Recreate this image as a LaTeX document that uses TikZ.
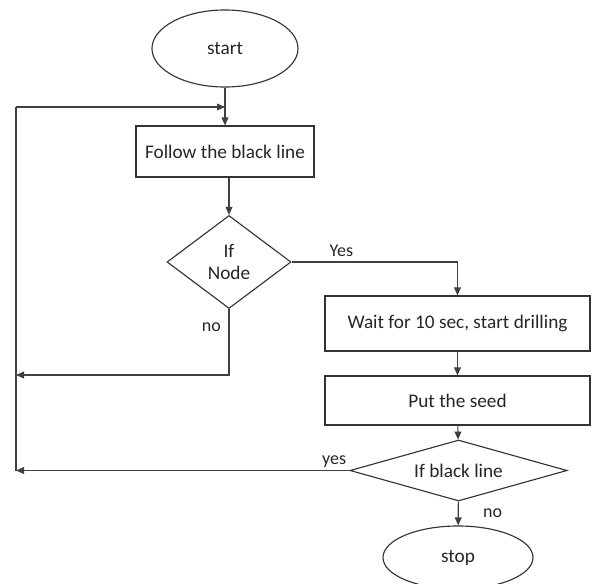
\documentclass[tikz,border=0pt]{standalone}
\usepackage{fontspec}
\setmainfont{Carlito}
\usepackage{tikz}
\usetikzlibrary{shapes.geometric,arrows.meta}

\begin{document}
\begin{tikzpicture}[x=0.025cm, y=-0.025cm,
    every node/.style={text=black!85, font=\fontsize{13.7}{16}\selectfont},
    term/.style={draw=black!80, line width=0.8pt, ellipse, inner sep=0pt},
    box/.style={draw=black!80, line width=0.8pt, rectangle, inner sep=0pt},
    test/.style={draw=black!80, line width=0.8pt, diamond, inner sep=0pt, align=center},
    lbl/.style={font=\fontsize{12.8}{15}\selectfont},
    flow/.style={draw=black!75, line width=0.8pt, -{Triangle[length=2mm, width=1.7mm]}}]
    \useasboundingbox (0,0) rectangle (592,584);

    \node[term, minimum width=3.65cm, minimum height=1.925cm] (start) at (225,48.5) {start};
    \node[box, minimum width=4.45cm, minimum height=1.275cm] (follow) at (225,151.5) {Follow the black line};
    \node[test, minimum width=3.1cm, minimum height=2.325cm, aspect=1.33] (ifnode) at (229,262) {If\\Node};
    \node[box, minimum width=6.625cm, minimum height=1.375cm] (wait) at (457.5,323.5) {Wait for 10 sec, start drilling};
    \node[box, minimum width=6.625cm, minimum height=1.225cm] (put) at (457.5,400.5) {Put the seed};
    \node[test, minimum width=5.425cm, minimum height=1.525cm, aspect=3.56] (ifline) at (458.5,470.5) {If black line};
    \node[term, minimum width=3.75cm, minimum height=1.575cm] (stop) at (458,557.5) {stop};

    \coordinate (bustop) at (16,107);
    \coordinate (busnode) at (16,375);
    \coordinate (busline) at (16,470.5);
    \coordinate (join) at (225,107);

    \draw[flow] (start) -- (follow);
    \draw[flow] (bustop) -- (join);
    \draw[flow] (follow.south -| ifnode.north) -- (ifnode.north);
    \draw[flow] (ifnode.east) -| node[lbl, pos=0.15, above] {Yes} (wait.north);
    \draw[flow] (ifnode.south) -- node[lbl, pos=0.28, left=2pt] {no} (ifnode.south |- busnode) -- (busnode);
    \draw[flow] (wait) -- (put);
    \draw[flow] (put) -- (ifline);
    \draw[flow] (ifline.west) -- node[lbl, pos=0, anchor=south east, inner sep=2pt] {yes} (busline);
    \draw[draw=black!75, line width=0.8pt] (busline) -- (bustop);
    \draw[flow] (ifline) -- node[lbl, right=14pt] {no} (stop);
  \end{tikzpicture}
\end{document}
